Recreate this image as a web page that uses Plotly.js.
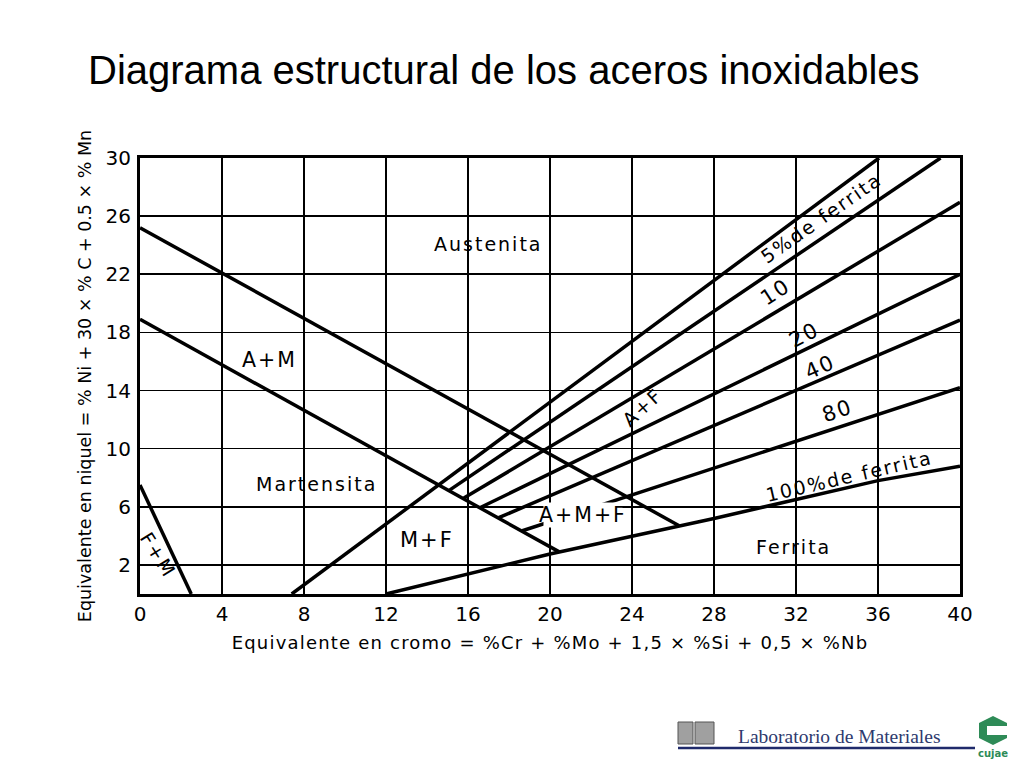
<!DOCTYPE html>
<html>
<head>
<meta charset="utf-8">
<script src="https://cdn.plot.ly/plotly-3.0.1.min.js"></script>
<style>html,body{margin:0;padding:0;background:#fff;}#chart{width:1024px;height:768px;}</style>
</head>
<body>
<div id="chart"></div>
<script>
// ---- data ----
const xTicks = [0, 4, 8, 12, 16, 20, 24, 28, 32, 36, 40];
const yTicks = [2, 6, 10, 14, 18, 22, 26, 30];

const amUpperX = [0, 26.3];
const amUpperY = [25.2, 4.7];
const amLowerX = [0, 20.45];
const amLowerY = [18.9, 2.9];
const fmX = [0, 2.5];
const fmY = [7.5, 0];
const fe0X = [7.4, 36.05];
const fe0Y = [0, 30];
const fe5X = [15.1, 39.05];
const fe5Y = [7.15, 30];
const fe10X = [15.8, 40];
const fe10Y = [6.6, 26.95];
const fe20X = [16.6, 40];
const fe20Y = [5.95, 22.0];
const fe40X = [17.5, 40];
const fe40Y = [5.25, 18.85];
const fe80X = [18.65, 40];
const fe80Y = [4.35, 14.2];
const fe100X = [12, 20, 28, 32, 36, 40];
const fe100Y = [0, 2.75, 5.2, 6.5, 7.8, 8.8];

const regionLabels = ['Austenita', 'A+M', 'Martensita', 'M+F', 'A+M+F', 'A+F', 'Ferrita', 'F+M'];
const regionX = [17.0, 6.3, 8.6, 14.0, 21.6, 24.5, 31.9, 0.9];
const regionY = [24.1, 16.1, 7.6, 3.75, 5.45, 12.9, 3.2, 2.7];
const regionAngle = [0, 0, 0, 0, 0, -42, 0, 58];
const regionSize = [19, 20.5, 19, 21, 20.5, 19, 19, 19];

const ferriteLabels = ['5%de ferrita', '10', '20', '40', '80', '100%de ferrita'];
const ferriteLabelX = [33.2, 31.0, 32.4, 33.2, 34.0, 34.6];
const ferriteLabelY = [25.9, 20.8, 17.8, 15.6, 12.6, 8.1];
const ferriteLabelAngle = [-35, -33, -28, -24, -19, -13];

// ---- figure ----
const lineStyle = {color: '#000', width: 3.5};
const series = [
  [amUpperX, amUpperY], [amLowerX, amLowerY], [fmX, fmY],
  [fe0X, fe0Y], [fe5X, fe5Y], [fe10X, fe10Y], [fe20X, fe20Y],
  [fe40X, fe40Y], [fe80X, fe80Y], [fe100X, fe100Y]
];
const traces = series.map(s => ({
  x: s[0], y: s[1], type: 'scatter', mode: 'lines',
  line: lineStyle, hoverinfo: 'skip', showlegend: false
}));

const L = 140, R = 960, T = 158, B = 594;
const px = v => (v - L) / (R - L);
const py = v => (B - v) / (B - T);

const labFont = {family: 'DejaVu Sans, Liberation Sans, sans-serif', size: 19, color: '#000'};
const annotations = [];
regionLabels.forEach((t, i) => {
  const a = {text: t, x: regionX[i], y: regionY[i], xref: 'x', yref: 'y',
    xanchor: 'center', yanchor: 'middle',
    showarrow: false, textangle: regionAngle[i],
    font: Object.assign({}, labFont, {size: regionSize[i]})};
  if (t === 'A+M+F') { a.bgcolor = '#fff'; a.borderpad = 0; }
  annotations.push(a);
});
ferriteLabels.forEach((t, i) => {
  annotations.push({text: t, x: ferriteLabelX[i], y: ferriteLabelY[i], xref: 'x', yref: 'y',
    xanchor: 'center', yanchor: 'middle',
    showarrow: false, textangle: ferriteLabelAngle[i],
    font: Object.assign({}, labFont, {size: i === 0 || i === 5 ? 19 : 21})});
});
// footer text
annotations.push({text: 'Laboratorio de Materiales', xref: 'paper', yref: 'paper',
  x: px(839), y: py(736), xanchor: 'center', yanchor: 'middle', showarrow: false,
  font: {family: 'Liberation Serif, DejaVu Serif, serif', size: 19.5, color: '#2e3a6e'}});
annotations.push({text: '<b>cujae</b>', xref: 'paper', yref: 'paper',
  x: px(993), y: py(753), xanchor: 'center', yanchor: 'middle', showarrow: false,
  font: {family: 'DejaVu Sans, sans-serif', size: 10, color: '#2e8b57'}});

const shapes = [
  {type: 'line', xref: 'paper', yref: 'paper', x0: px(678), x1: px(975), y0: py(748), y1: py(748),
    line: {color: '#1f2a6b', width: 2.5}},
  // "IM" logo blocks
  {type: 'rect', xref: 'paper', yref: 'paper', x0: px(678), x1: px(693), y0: py(744), y1: py(722),
    fillcolor: '#a0a0a0', line: {color: '#555', width: 1}},
  {type: 'rect', xref: 'paper', yref: 'paper', x0: px(695), x1: px(714), y0: py(744), y1: py(722),
    fillcolor: '#a0a0a0', line: {color: '#555', width: 1}},
  // cujae logo
  {type: 'path', xref: 'paper', yref: 'paper',
    path: `M ${px(993)} ${py(716)} L ${px(1007)} ${py(723)} L ${px(1007)} ${py(738)} L ${px(993)} ${py(745)} L ${px(979)} ${py(738)} L ${px(979)} ${py(723)} Z`,
    fillcolor: '#2e8b57', line: {width: 0}},
  {type: 'path', xref: 'paper', yref: 'paper',
    path: `M ${px(987)} ${py(726)} L ${px(1007)} ${py(726)} L ${px(1007)} ${py(735)} L ${px(987)} ${py(735)} Z`,
    fillcolor: '#ffffff', line: {width: 0}}
];

const tickFont = {family: 'DejaVu Sans, Liberation Sans, sans-serif', size: 20, color: '#000'};
const layout = {
  width: 1024, height: 768, autosize: false,
  margin: {l: L, r: 1024 - R, t: T, b: 768 - B, pad: 0},
  paper_bgcolor: '#fff', plot_bgcolor: '#fff',
  showlegend: false,
  title: {text: 'Diagrama estructural de los aceros inoxidables',
    font: {family: 'Liberation Sans, Arial, sans-serif', size: 40, color: '#000'},
    x: 88 / 1024, xanchor: 'left', xref: 'container',
    y: 1 - 70 / 768, yanchor: 'middle', yref: 'container'},
  xaxis: {
    range: [0, 40], tickvals: xTicks, ticktext: xTicks.map(String),
    showgrid: true, gridcolor: '#000', gridwidth: 1.6,
    showline: true, mirror: true, linecolor: '#000', linewidth: 3,
    zeroline: false, ticks: '', tickfont: tickFont, fixedrange: true,
    title: {text: 'Equivalente en cromo = %Cr + %Mo + 1,5 × %Si + 0,5 × %Nb',
      font: {family: 'DejaVu Sans, Liberation Sans, sans-serif', size: 18, color: '#000'}, standoff: 12}
  },
  yaxis: {
    range: [0, 30], tickvals: yTicks, ticktext: yTicks.map(String),
    showgrid: true, gridcolor: '#000', gridwidth: 1.6,
    showline: true, mirror: true, linecolor: '#000', linewidth: 3,
    zeroline: false, ticks: '', tickfont: tickFont, fixedrange: true, ticklabelstandoff: 2,
    title: {text: 'Equivalente en niquel = % Ni + 30 × % C + 0.5 × % Mn',
      font: {family: 'DejaVu Sans, Liberation Sans, sans-serif', size: 17.5, color: '#000'}, standoff: 10}
  },
  annotations: annotations,
  shapes: shapes
};

Plotly.newPlot('chart', traces, layout, {staticPlot: true, displayModeBar: false}).then(gd => {
  const spaced = new Set(regionLabels.concat(ferriteLabels));
  gd.querySelectorAll('.annotation-text').forEach(el => {
    if (spaced.has(el.textContent)) el.style.letterSpacing = '2px';
  });
  const xt = gd.querySelector('.xtitle');
  if (xt) xt.style.letterSpacing = '1.2px';
});
</script>
</body>
</html>
